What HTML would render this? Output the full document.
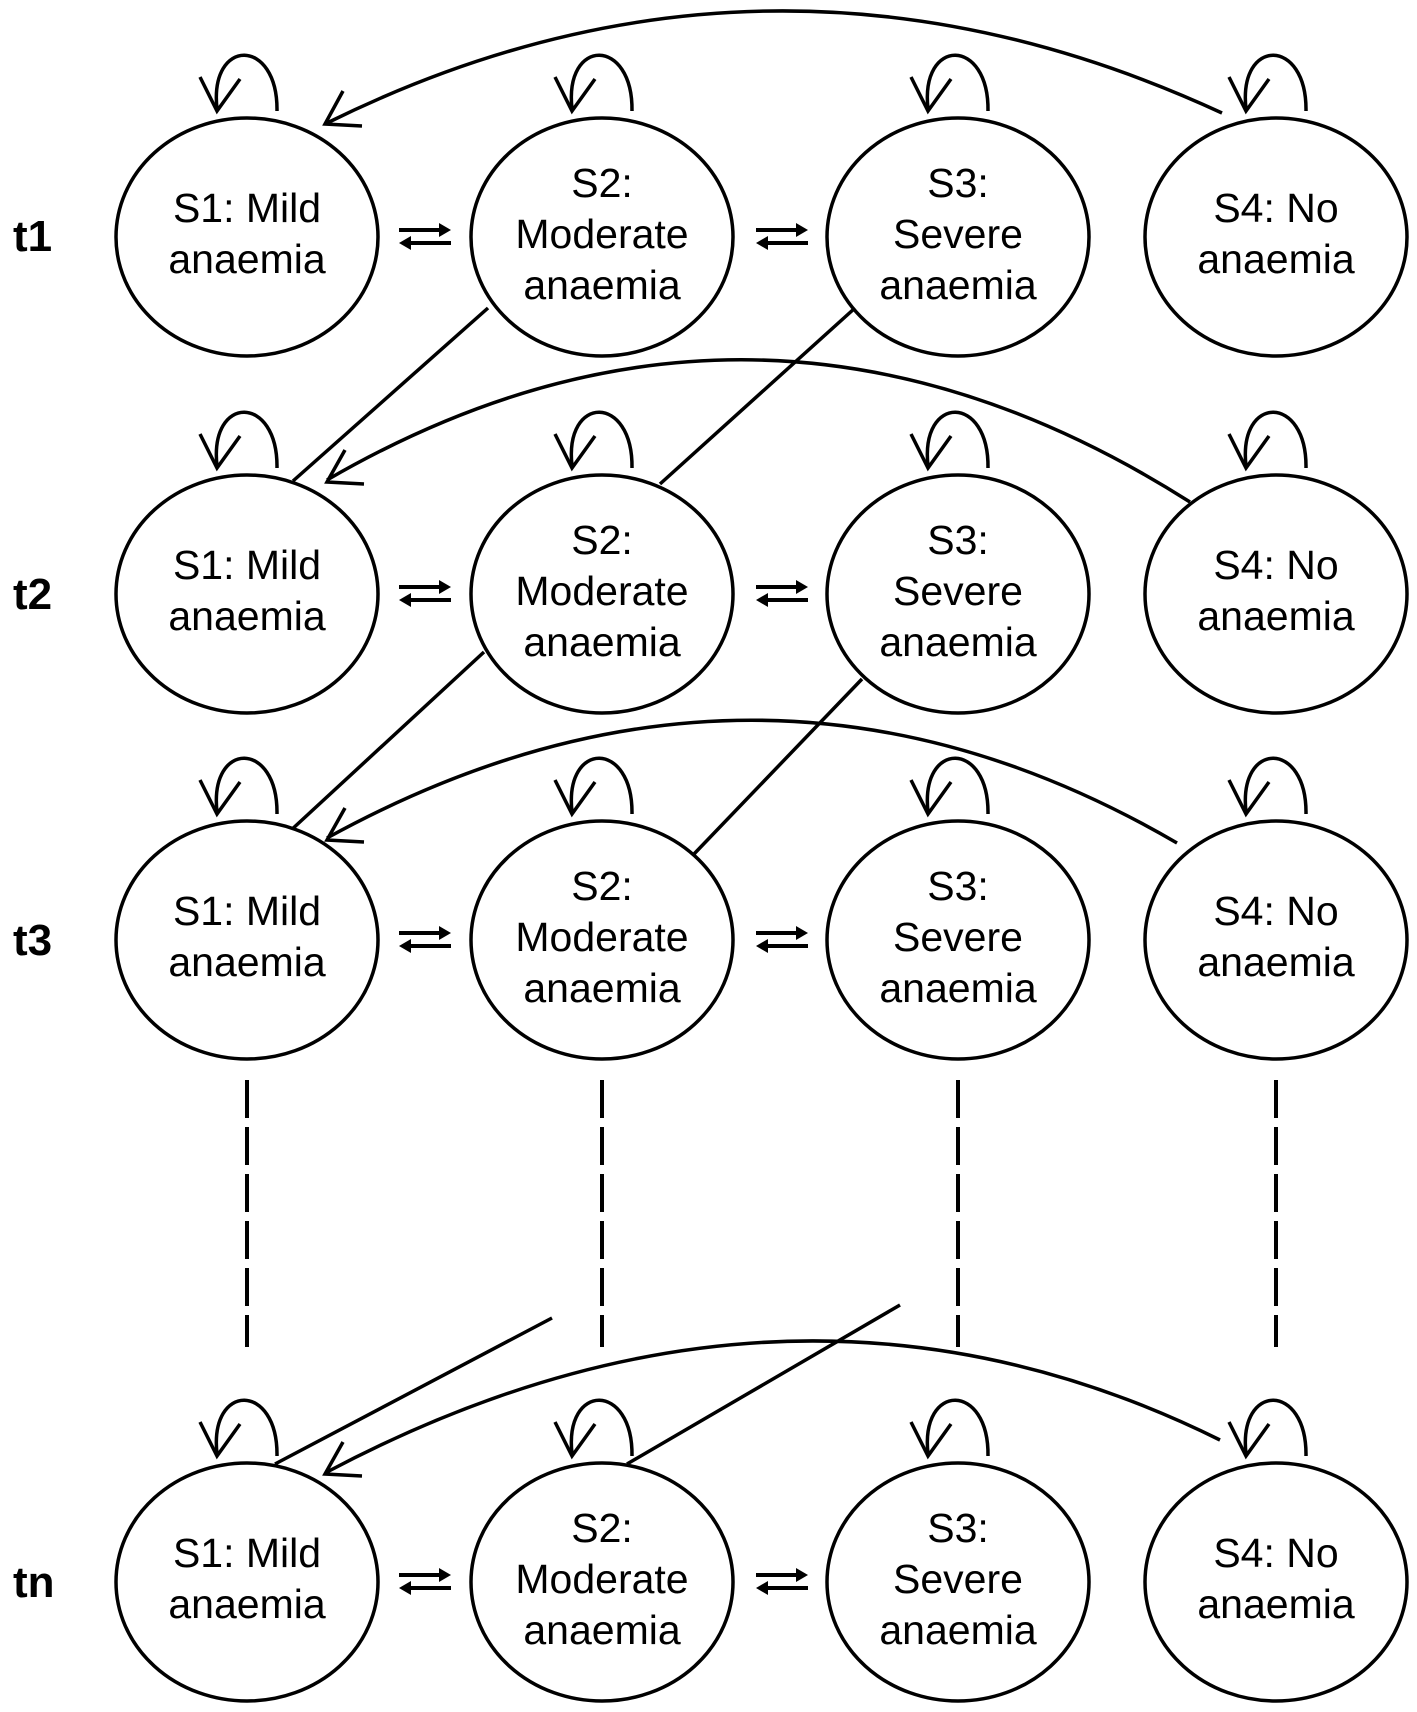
<!DOCTYPE html>
<html><head><meta charset="utf-8"><style>
html,body{margin:0;padding:0;background:#fff;}
svg{display:block;}
text{font-family:"Liberation Sans",Arial,sans-serif;fill:#000;}
</style></head><body>
<svg width="1417" height="1712" viewBox="0 0 1417 1712" xmlns="http://www.w3.org/2000/svg">
<defs>
<g id="node">
<ellipse cx="0" cy="0" rx="131" ry="119" fill="#fff" stroke="#000" stroke-width="3.5"/>
<path d="M30,-126 C31,-200 -38,-200 -30,-128" fill="none" stroke="#000" stroke-width="3.5"/>
<path d="M-47,-160 L-30,-126 L-7,-158" fill="none" stroke="#000" stroke-width="3.5"/>
</g>
<g id="dbl">
<line x1="0" y1="0" x2="44" y2="0" stroke="#000" stroke-width="4"/>
<polygon points="52,0 40,-7 40,7" fill="#000"/>
<line x1="8" y1="13" x2="52" y2="13" stroke="#000" stroke-width="4"/>
<polygon points="0,13 12,6 12,20" fill="#000"/>
</g>
</defs>
<g fill="none" stroke="#000" stroke-width="3.5">
<path d="M1222,113 Q770,-96 327,123"/>
<path d="M1190,502 Q760,229 327,480"/>
<path d="M1177,843 Q760,600 327,838"/>
<path d="M1220,1440 Q790,1227 327,1472"/>
<line x1="488" y1="308" x2="293" y2="481"/>
<line x1="855" y1="308" x2="660" y2="484"/>
<line x1="484" y1="652" x2="289" y2="832"/>
<line x1="862" y1="679" x2="694" y2="854"/>
<line x1="552" y1="1318" x2="275" y2="1464"/>
<line x1="900" y1="1305" x2="627" y2="1464"/>
<g stroke-dasharray="38 9" stroke-width="4">
<line x1="247" y1="1080" x2="247" y2="1347"/>
<line x1="602" y1="1080" x2="602" y2="1347"/>
<line x1="958" y1="1080" x2="958" y2="1347"/>
<line x1="1276" y1="1080" x2="1276" y2="1347"/>
</g>
<path d="M343,91 L325,124 L362,126"/>
<path d="M345,450 L327,482 L364,484"/>
<path d="M345,808 L327,840 L364,842"/>
<path d="M343,1442 L325,1474 L362,1476"/>
</g>

<use href="#node" x="247" y="237"/><use href="#node" x="602" y="237"/><use href="#node" x="958" y="237"/><use href="#node" x="1276" y="237"/>
<use href="#node" x="247" y="594"/><use href="#node" x="602" y="594"/><use href="#node" x="958" y="594"/><use href="#node" x="1276" y="594"/>
<use href="#node" x="247" y="940"/><use href="#node" x="602" y="940"/><use href="#node" x="958" y="940"/><use href="#node" x="1276" y="940"/>
<use href="#node" x="247" y="1582"/><use href="#node" x="602" y="1582"/><use href="#node" x="958" y="1582"/><use href="#node" x="1276" y="1582"/>

<use href="#dbl" x="399" y="230"/><use href="#dbl" x="756" y="230"/>
<use href="#dbl" x="399" y="587"/><use href="#dbl" x="756" y="587"/>
<use href="#dbl" x="399" y="933"/><use href="#dbl" x="756" y="933"/>
<use href="#dbl" x="399" y="1575"/><use href="#dbl" x="756" y="1575"/>

<g font-size="44" font-weight="bold">
<text x="13" y="251">t1</text><text x="13" y="609">t2</text><text x="13" y="955">t3</text><text x="13" y="1597">tn</text>
</g>
<g font-size="41" text-anchor="middle">
<text x="247" y="222">S1: Mild</text><text x="247" y="273">anaemia</text>
<text x="602" y="197">S2:</text><text x="602" y="248">Moderate</text><text x="602" y="299">anaemia</text>
<text x="958" y="197">S3:</text><text x="958" y="248">Severe</text><text x="958" y="299">anaemia</text>
<text x="1276" y="222">S4: No</text><text x="1276" y="273">anaemia</text>

<text x="247" y="579">S1: Mild</text><text x="247" y="630">anaemia</text>
<text x="602" y="554">S2:</text><text x="602" y="605">Moderate</text><text x="602" y="656">anaemia</text>
<text x="958" y="554">S3:</text><text x="958" y="605">Severe</text><text x="958" y="656">anaemia</text>
<text x="1276" y="579">S4: No</text><text x="1276" y="630">anaemia</text>

<text x="247" y="925">S1: Mild</text><text x="247" y="976">anaemia</text>
<text x="602" y="900">S2:</text><text x="602" y="951">Moderate</text><text x="602" y="1002">anaemia</text>
<text x="958" y="900">S3:</text><text x="958" y="951">Severe</text><text x="958" y="1002">anaemia</text>
<text x="1276" y="925">S4: No</text><text x="1276" y="976">anaemia</text>

<text x="247" y="1567">S1: Mild</text><text x="247" y="1618">anaemia</text>
<text x="602" y="1542">S2:</text><text x="602" y="1593">Moderate</text><text x="602" y="1644">anaemia</text>
<text x="958" y="1542">S3:</text><text x="958" y="1593">Severe</text><text x="958" y="1644">anaemia</text>
<text x="1276" y="1567">S4: No</text><text x="1276" y="1618">anaemia</text>
</g>
</svg>
</body></html>
